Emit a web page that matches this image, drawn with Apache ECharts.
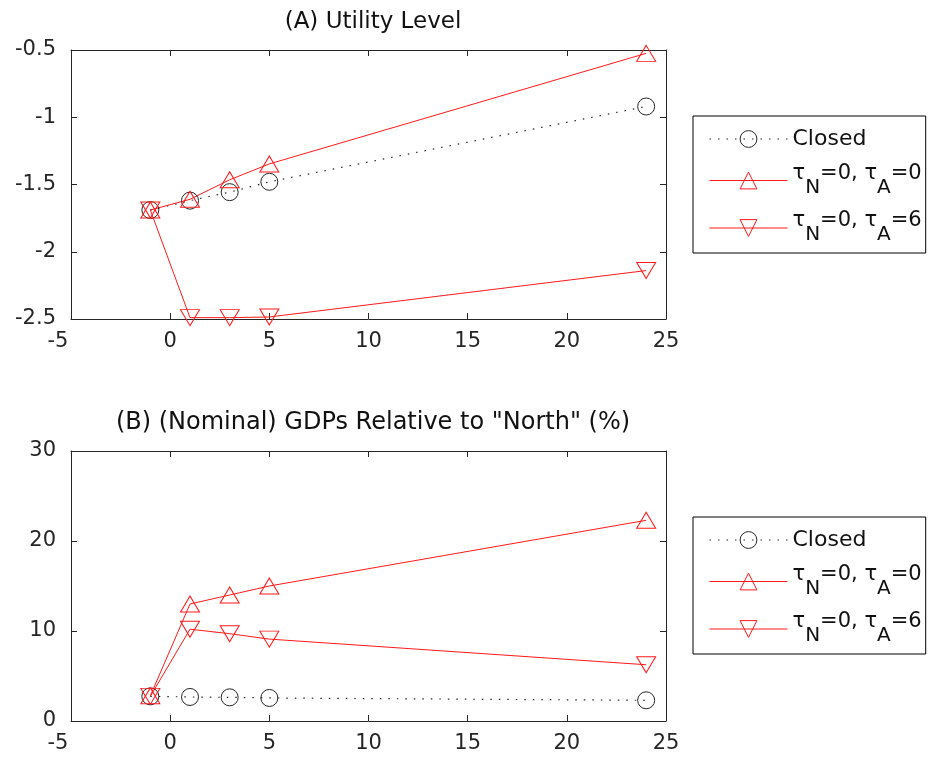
<!DOCTYPE html>
<html>
<head>
<meta charset="utf-8">
<script src="https://cdn.jsdelivr.net/npm/echarts@6/dist/echarts.min.js"></script>
<style>
  html, body { margin: 0; padding: 0; background: #fff; }
  #chart { width: 928px; height: 759px; }
</style>
</head>
<body>
<div id="chart"></div>
<script>
// x positions shared by both panels
const xVals = [-1, 1, 3, 5, 24];

// (A) utility level
const utilClosed = [-1.69, -1.62, -1.557, -1.48, -0.92];
const utilTauA0 = [-1.69, -1.61, -1.465, -1.347, -0.525];
const utilTauA6 = [-1.69, -2.49, -2.49, -2.485, -2.14];

// (B) nominal GDP relative to North (%)
const gdpClosed = [2.74, 2.67, 2.63, 2.56, 2.3];
const gdpTauA0 = [2.8, 13.0, 14.0, 15.0, 22.3];
const gdpTauA6 = [2.74, 10.2, 9.7, 9.1, 6.25];

const seriesNames = ["Closed", "tauA0", "tauA6"];
const legendLabels = {
  Closed: "{c|Closed}",
  tauA0: "{n|τ}{s|N}{n|=0, τ}{s|A}{n|=0}",
  tauA6: "{n|τ}{s|N}{n|=0, τ}{s|A}{n|=6}"
};

const FONT = "DejaVu Sans, Verdana, sans-serif";
const INK = "#262626";
const RED = "#ff1a1a";

const pairs = (ys) => xVals.map((x, i) => [x, ys[i]]);

function xAxes(gi) {
  const base = {
    gridIndex: gi, type: "value", min: -5, max: 25, interval: 5,
    axisLine: { show: true, onZero: false, lineStyle: { color: INK, width: 1 } },
    axisTick: { show: true, inside: true, length: 6, lineStyle: { color: INK } },
    splitLine: { show: false }
  };
  return [
    Object.assign({}, base, {
      position: "bottom",
      axisLabel: {
        color: INK, fontSize: 21, fontFamily: FONT, margin: 12,
        // matlab puts the "-5" a bit left of its tick
        formatter: (v) => (v < 0 ? "{neg|" + v + "}" : String(v)),
        rich: { neg: { color: INK, fontSize: 21, fontFamily: FONT, padding: [0, 26, 0, 0] } }
      }
    }),
    Object.assign({}, base, { position: "top", axisLabel: { show: false } })
  ];
}

function yAxes(gi, min, max, interval) {
  const base = {
    gridIndex: gi, type: "value", min: min, max: max, interval: interval,
    axisLine: { show: true, onZero: false, lineStyle: { color: INK, width: 1 } },
    axisTick: { show: true, inside: true, length: 6, lineStyle: { color: INK } },
    splitLine: { show: false }
  };
  return [
    Object.assign({}, base, {
      position: "left",
      axisLabel: { color: INK, fontSize: 21, fontFamily: FONT, margin: 15 }
    }),
    Object.assign({}, base, { position: "right", axisLabel: { show: false } })
  ];
}

function panelSeries(gi, closed, a0, a6) {
  const xi = gi * 2, yi = gi * 2;
  const common = { type: "line", xAxisIndex: xi, yAxisIndex: yi, animation: false, clip: false };
  return [
    Object.assign({}, common, {
      name: "Closed", data: pairs(closed),
      symbol: "circle", symbolSize: 17,
      lineStyle: { color: INK, width: 1.2, type: [1.5, 7] },
      itemStyle: { color: "rgba(0,0,0,0)", borderColor: INK, borderWidth: 1 }
    }),
    Object.assign({}, common, {
      name: "tauA0", data: pairs(a0),
      symbol: "triangle", symbolSize: [19, 16],
      lineStyle: { color: RED, width: 1 },
      itemStyle: { color: "rgba(0,0,0,0)", borderColor: RED, borderWidth: 1 }
    }),
    Object.assign({}, common, {
      name: "tauA6", data: pairs(a6),
      symbol: "triangle", symbolSize: [19, 16], symbolRotate: 180,
      lineStyle: { color: RED, width: 1 },
      itemStyle: { color: "rgba(0,0,0,0)", borderColor: RED, borderWidth: 1 }
    })
  ];
}

function legendAt(top) {
  return {
    data: seriesNames, orient: "vertical", left: 693, top: top,
    itemWidth: 78, itemHeight: 21, itemGap: 13,
    padding: [12, 4, 8, 16],
    borderColor: "#000", borderWidth: 1,
    selectedMode: false,
    itemStyle: { borderWidth: 1 },
    lineStyle: { width: 1 },
    formatter: (name) => legendLabels[name],
    textStyle: {
      fontFamily: FONT, fontSize: 21, color: "#111",
      rich: {
        c: { fontFamily: FONT, fontSize: 22, color: "#111" },
        n: { fontFamily: FONT, fontSize: 21, color: "#111", padding: [0, 0, 14, 0] },
        s: { fontFamily: FONT, fontSize: 20, color: "#111", padding: [14, 0, 0, 0] }
      }
    }
  };
}

const chart = echarts.init(document.getElementById("chart"));
chart.setOption({
  backgroundColor: "#fff",
  animation: false,
  title: [
    { text: "(A) Utility Level", left: 368, top: 6, textAlign: "center",
      textStyle: { fontFamily: FONT, fontSize: 23, fontWeight: "normal", color: "#111" } },
    { text: '(B) (Nominal) GDPs Relative to "North" (%)', left: 368, top: 406, textAlign: "center",
      textStyle: { fontFamily: FONT, fontSize: 24, fontWeight: "normal", color: "#111" } }
  ],
  legend: [legendAt(116), legendAt(517)],
  grid: [
    { left: 71, top: 50, width: 595, height: 269 },
    { left: 71, top: 451, width: 595, height: 270 }
  ],
  xAxis: xAxes(0).concat(xAxes(1)),
  yAxis: yAxes(0, -2.5, -0.5, 0.5).concat(yAxes(1, 0, 30, 10)),
  series: panelSeries(0, utilClosed, utilTauA0, utilTauA6)
    .concat(panelSeries(1, gdpClosed, gdpTauA0, gdpTauA6))
});
</script>
</body>
</html>
